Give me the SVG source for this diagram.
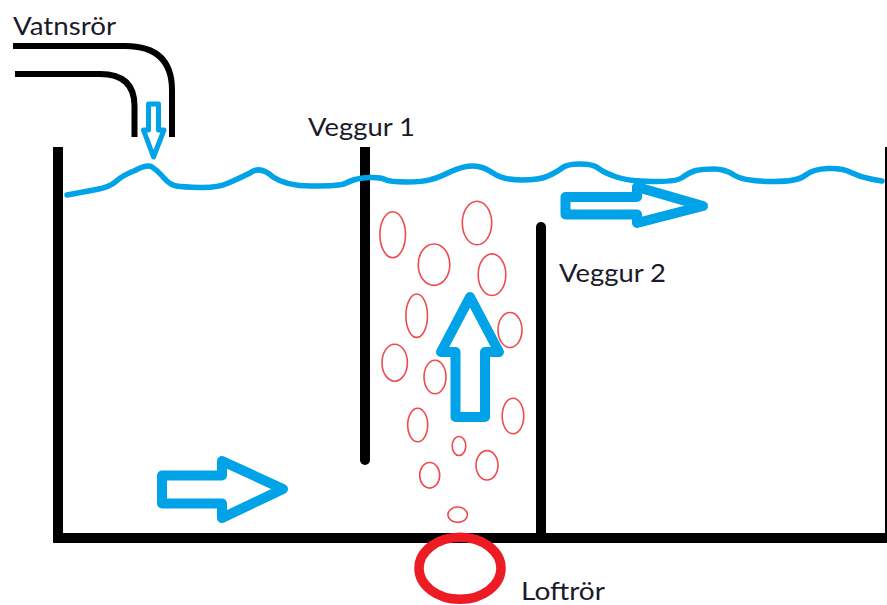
<svg xmlns="http://www.w3.org/2000/svg" width="887" height="605" viewBox="0 0 887 605">
<style>
.wall{fill:none;stroke:#000;stroke-width:10}
.pipe{fill:none;stroke:#000;stroke-width:6}
.water{fill:none;stroke:#00a2e8;stroke-width:5.500;stroke-linejoin:round;stroke-linecap:round}
.arrow{fill:#fff;stroke:#00a2e8;stroke-width:10;stroke-linejoin:round}
.bubble{fill:none;stroke:#ee4a50;stroke-width:1.600}
text{font-family:"Lato","Open Sans","Liberation Sans",sans-serif;font-size:25px;fill:#1a1a2a}
</style>
<rect width="887" height="605" fill="#fff"/>
<path class="pipe" d="M13 46H125Q172 46 172 90V137"/>
<path class="pipe" d="M15 74H100Q134.500 74 134.500 106V137"/>
<path class="wall" d="M58 147V538M53 538H887M890 147V538"/>
<path class="wall" stroke-linecap="round" d="M541 227V535"/>
<path class="wall" stroke-linecap="round" d="M365 460V155"/>
<path class="wall" d="M365 147V160"/>
<path class="water" d="M67 195Q83 192 96.500 189.500Q110 187 116.500 181Q123 175 135 170.500Q147 164 152 167Q157 170 163.500 177.500Q170 185 176.500 186Q183 187 200 187.500Q217 188 228.500 183Q240 178 250 173Q260 165 273 177Q287 186.500 313 186Q340 186 345 183.500Q350 181 355 179.500Q360 178 370 177.500Q380 177 385 179.500Q390 182 406 182Q423 182 431 179.500Q440 177 451 171.500Q463 166 473 166Q483 166 493 173Q503 180 521 180Q540 180 548 176Q557 172 562 168Q567 164 580 164Q593 164 598 168Q603 172 615 176.500Q627 181 652 181.500Q677 182 683 177Q690 172 696 170.500Q703 169 714 169Q725 169 734 175Q743 181 770 181.500Q797 182 805 175.500Q813 169 828 168.500Q843 168 851 172.500Q860 177 871 179Q876 180 882 181"/>
<path class="arrow" style="stroke-width:5" d="M148.500 104H158.500V130H164L153.500 157L143.500 130H148.500Z"/>
<path class="arrow" d="M565.500 197H637V187L703 206L637 223V214.500H565.500Z"/>
<path class="arrow" d="M455.500 417V352H441L470 297L499 352H485V417Z"/>
<path class="arrow" d="M162 475.500H222V461L283 489L222 518V503.500H162Z"/>
<ellipse class="bubble" cx="392.700" cy="234.700" rx="12.800" ry="23"/>
<ellipse class="bubble" cx="477" cy="223" rx="14.700" ry="21.700"/>
<ellipse class="bubble" cx="434" cy="264.700" rx="15.800" ry="20.700"/>
<ellipse class="bubble" cx="492" cy="274.700" rx="13.800" ry="20.800"/>
<ellipse class="bubble" cx="416.700" cy="315.700" rx="10.800" ry="21.700"/>
<ellipse class="bubble" cx="510" cy="330" rx="12" ry="17.500"/>
<ellipse class="bubble" cx="394.700" cy="362.700" rx="12.700" ry="18.500"/>
<ellipse class="bubble" cx="435" cy="377" rx="11" ry="16.800"/>
<ellipse class="bubble" cx="513" cy="416" rx="10.800" ry="17.800"/>
<ellipse class="bubble" cx="417.700" cy="425" rx="10" ry="16.700"/>
<ellipse class="bubble" cx="459" cy="446" rx="6.800" ry="9.500"/>
<ellipse class="bubble" cx="487" cy="465.300" rx="11" ry="14.700"/>
<ellipse class="bubble" cx="429.700" cy="475.300" rx="10" ry="12.800"/>
<ellipse class="bubble" cx="457.700" cy="514.700" rx="9.800" ry="7.700"/>
<ellipse cx="460" cy="568.300" rx="41" ry="31" fill="none" stroke="#ed1c24" stroke-width="9.500"/>
<text x="13" y="35" textLength="103" lengthAdjust="spacingAndGlyphs">Vatnsrör</text>
<text x="308" y="136" textLength="107" lengthAdjust="spacingAndGlyphs">Veggur 1</text>
<text x="559" y="282" textLength="107" lengthAdjust="spacingAndGlyphs">Veggur 2</text>
<text x="521" y="600" textLength="84" lengthAdjust="spacingAndGlyphs">Loftrör</text>
</svg>
